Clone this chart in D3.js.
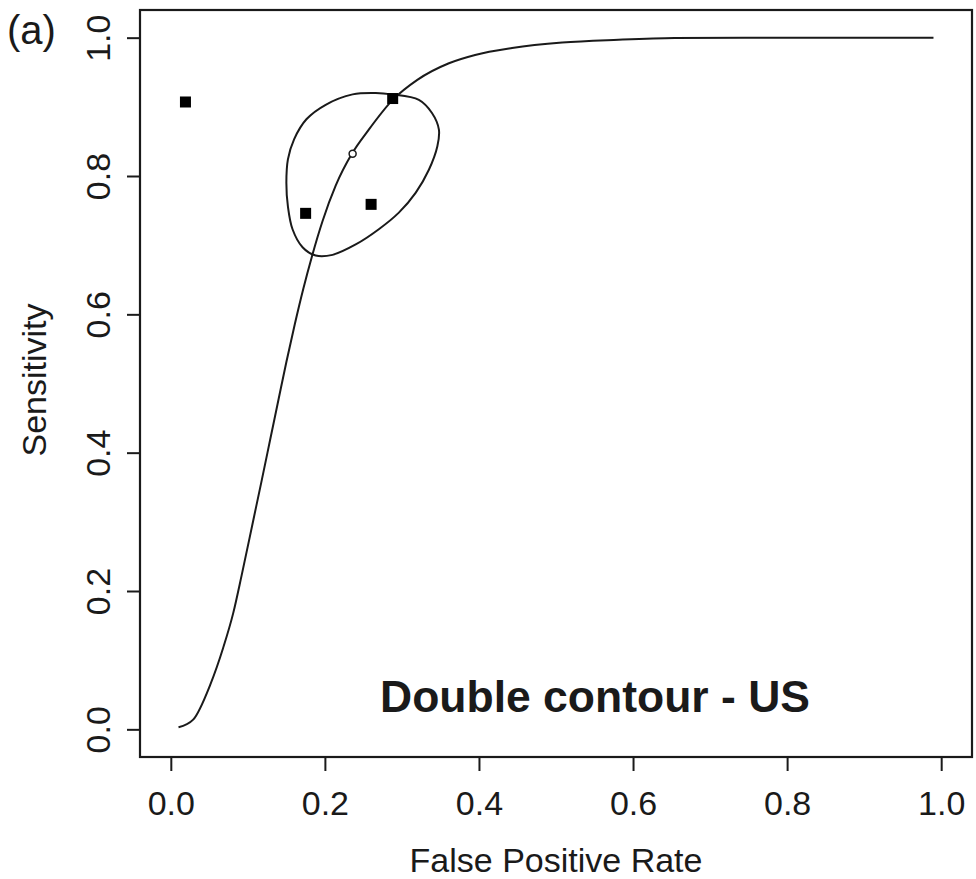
<!DOCTYPE html>
<html>
<head>
<meta charset="utf-8">
<script src="https://cdn.jsdelivr.net/npm/d3@7"></script>
<style>
  body { margin: 0; background: #fff; }
  text { font-family: "Liberation Sans", Arial, sans-serif; fill: #1a1a1a; }
</style>
</head>
<body>
<svg id="chart" width="976" height="879"></svg>
<script>
// summary ROC curve (fpr, sensitivity)
var curveFpr  = [0.01, 0.029, 0.051, 0.068, 0.081, 0.092, 0.107, 0.118, 0.129, 0.140, 0.150, 0.161, 0.172, 0.183, 0.197, 0.214, 0.235, 0.257, 0.288, 0.320, 0.361, 0.395, 0.443, 0.508, 0.581, 0.654, 0.75, 0.87, 0.99];
var curveSens = [0.003, 0.014, 0.064, 0.118, 0.168, 0.223, 0.302, 0.360, 0.419, 0.478, 0.531, 0.586, 0.637, 0.683, 0.735, 0.786, 0.832, 0.867, 0.910, 0.939, 0.963, 0.975, 0.985, 0.993, 0.997, 0.9995, 1.0, 1.0, 1.0];

// confidence contour around the summary point
var contourFpr  = [0.287, 0.322, 0.339, 0.348, 0.346, 0.335, 0.318, 0.296, 0.270, 0.240, 0.210, 0.188, 0.171, 0.158, 0.152, 0.150, 0.152, 0.160, 0.176, 0.201, 0.236, 0.266];
var contourSens = [0.918, 0.910, 0.891, 0.867, 0.843, 0.809, 0.776, 0.747, 0.723, 0.701, 0.686, 0.685, 0.697, 0.723, 0.756, 0.790, 0.824, 0.853, 0.882, 0.903, 0.918, 0.920];

// study estimates
var studyFpr  = [0.019, 0.288, 0.175, 0.260];
var studySens = [0.907, 0.912, 0.746, 0.759];

// summary point
var summaryFpr = [0.236];
var summarySens = [0.832];

var tickVals = [0, 0.2, 0.4, 0.6, 0.8, 1.0];
var panelLabel = "(a)";
var chartNote = "Double contour - US";
var xTitle = "False Positive Rate";
var yTitle = "Sensitivity";

var svg = d3.select("#chart");
var ink = "#1a1a1a";

var x = d3.scaleLinear().domain([-0.04, 1.04]).range([140, 972]);
var y = d3.scaleLinear().domain([-0.04, 1.04]).range([757, 10]);

// axes
var xAxis = d3.axisBottom(x).tickValues(tickVals).tickSize(14).tickSizeOuter(0).tickPadding(20)
    .tickFormat(d3.format(".1f"));
var gx = svg.append("g").attr("transform", "translate(0,757)").call(xAxis);
gx.select(".domain").remove();
gx.selectAll("line").attr("stroke", ink).attr("stroke-width", 2);
gx.selectAll("text").style("font-size", "34px").attr("fill", ink);

var yAxis = d3.axisLeft(y).tickValues(tickVals).tickSize(13).tickSizeOuter(0)
    .tickFormat(d3.format(".1f"));
var gy = svg.append("g").attr("transform", "translate(140,0)").call(yAxis);
gy.select(".domain").remove();
gy.selectAll("line").attr("stroke", ink).attr("stroke-width", 2);
gy.selectAll("text")
    .style("font-size", "34px").attr("fill", ink)
    .attr("text-anchor", "middle").attr("x", null).attr("dy", null)
    .attr("transform", "translate(-30,0) rotate(-90)");

// box
svg.append("rect")
    .attr("x", x(-0.04)).attr("y", y(1.04))
    .attr("width", x(1.04) - x(-0.04)).attr("height", y(-0.04) - y(1.04))
    .attr("fill", "none").attr("stroke", ink).attr("stroke-width", 2.2);

// SROC curve
var curveData = curveFpr.map(function(d, i) { return [d, curveSens[i]]; });
var srocLine = d3.line().x(function(d) { return x(d[0]); }).y(function(d) { return y(d[1]); })
    .curve(d3.curveMonotoneX);
svg.append("path").datum(curveData).attr("d", srocLine)
    .attr("fill", "none").attr("stroke", ink).attr("stroke-width", 2);

// contour
var contourData = contourFpr.map(function(d, i) { return [d, contourSens[i]]; });
var contourLine = d3.line().x(function(d) { return x(d[0]); }).y(function(d) { return y(d[1]); })
    .curve(d3.curveCatmullRomClosed);
svg.append("path").attr("class", "contour").attr("d", contourLine(contourData))
    .attr("fill", "none").attr("stroke", ink).attr("stroke-width", 2);

// study squares
var sq = 11;
svg.selectAll("rect.study").data(studyFpr).enter().append("rect")
    .attr("class", "study")
    .attr("x", function(d) { return x(d) - sq / 2; })
    .attr("y", function(d, i) { return y(studySens[i]) - sq / 2; })
    .attr("width", sq).attr("height", sq)
    .attr("fill", "#000");

// summary point
svg.selectAll("circle.summary").data(summaryFpr).enter().append("circle")
    .attr("class", "summary")
    .attr("cx", function(d) { return x(d); })
    .attr("cy", function(d, i) { return y(summarySens[i]); })
    .attr("r", 3.5)
    .attr("fill", "#fff").attr("stroke", ink).attr("stroke-width", 1.5);

// text
svg.append("text").attr("x", 7).attr("y", 44).style("font-size", "40px").text(panelLabel);

svg.append("text").attr("x", 380).attr("y", 712)
    .style("font-size", "44px").style("font-weight", "bold").attr("fill", "#000")
    .attr("textLength", 430).attr("lengthAdjust", "spacingAndGlyphs")
    .text(chartNote);

svg.append("text").attr("x", 556).attr("y", 872).attr("text-anchor", "middle")
    .style("font-size", "34px").text(xTitle);

svg.append("text").attr("transform", "translate(46,380) rotate(-90)").attr("text-anchor", "middle")
    .style("font-size", "34px").text(yTitle);
</script>
</body>
</html>
